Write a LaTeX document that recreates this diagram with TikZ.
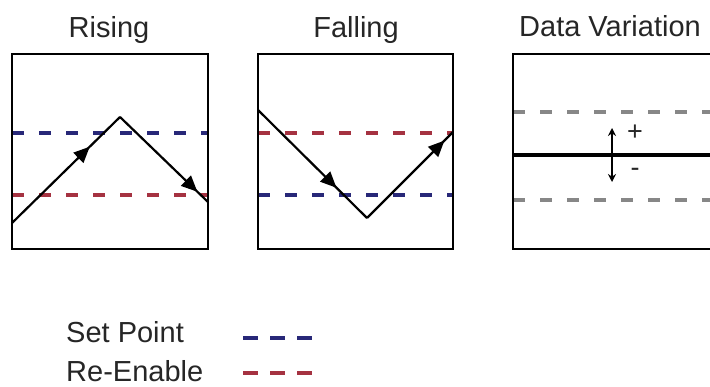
\documentclass[tikz,border=0pt]{standalone}
\usepackage{fontspec}
\setmainfont{Liberation Sans}
\usetikzlibrary{arrows.meta,positioning,decorations.markings}
\definecolor{setblue}{RGB}{40,40,120}
\definecolor{enred}{RGB}{165,50,65}
\definecolor{vargray}{RGB}{135,135,135}
\tikzset{
  frame/.style     = {line width=2.2pt},
  trace/.style     = {line width=2.2pt},
  limit/.style     = {line width=3.4pt, dash pattern=on 12pt off 15pt},
  legdash/.style   = {line width=3.4pt, dash pattern=on 15pt off 12pt},
  title/.style     = {font=\fontsize{29}{30}\selectfont, text=black!85, inner sep=0pt},
  sign/.style      = {font=\fontsize{27}{27}\selectfont, text=black!85, inner sep=0pt},
  midarrow/.style  = {postaction={decorate,decoration={markings,
                      mark=at position #1 with {\arrow{Triangle[length=16pt,width=14pt]}}}}},
}

\begin{document}
\begin{tikzpicture}[x=1pt,y=-1pt]
  \def\bw{196}   % box width
  \def\bh{195}   % box height
  \useasboundingbox (0,0) rectangle (710,387);

  % ---------------- rising -----------------------------------------------
  \node[title,anchor=base] (rising) at (109,38) {Rising};
  \begin{scope}[shift={(12,54)}]
    \draw[limit,setblue] (0,79) -- (\bw,79);
    \draw[limit,enred] (0,141) -- (\bw,141);
    \draw[trace,midarrow=0.72] (0,169) -- (108,63);
    \draw[trace,midarrow=0.88] (108,63) -- (\bw,148);
    \draw[frame] (0,0) rectangle (\bw,\bh);
  \end{scope}

  % ---------------- falling ----------------------------------------------
  \node[title,anchor=base] (falling) at (356,38) {Falling};
  \begin{scope}[shift={(258,54)}]
    \draw[limit,enred] (0,79) -- (195,79);
    \draw[limit,setblue] (0,141) -- (195,141);
    \draw[trace,midarrow=0.72] (0,56) -- (109,164);
    \draw[trace,midarrow=0.9] (109,164) -- (195,78);
    \draw[frame] (0,0) rectangle (195,\bh);
  \end{scope}

  % ---------------- data variation ---------------------------------------
  \node[title,anchor=base] (variation) at (610,37) {Data Variation};
  \begin{scope}[shift={(513,54)}]
    \draw[limit,vargray] (0,58) -- (197,58);
    \draw[limit,vargray] (0,146) -- (197,146);
    \draw[line width=3.4pt] (0,101) -- (197,101);
    \coordinate (var up) at (99,74);
    \coordinate (var down) at (99,128);
    \draw[{Stealth[length=8pt,width=8pt]}-{Stealth[length=8pt,width=8pt]},line width=1.8pt]
         (var up) -- (var down);
    \node[sign] (plus) at (122,79) {+};
    \node[sign] (minus) at (122,118) {-};
    \draw[frame] (198.5,0) -- (0,0) -- (0,\bh) -- (198.5,\bh);
  \end{scope}

  % ---------------- legend -----------------------------------------------
  \node[title,anchor=base west] (setpt) at (66,343) {Set Point};
  \node[title,anchor=base west] (reenable) at (66,382) {Re-Enable};
  \coordinate (setpt a) at (243,338);
  \coordinate (setpt b) at (312,338);
  \coordinate (reenable a) at (243,373);
  \coordinate (reenable b) at (312,373);
  \draw[legdash,setblue] (setpt a) -- (setpt b);
  \draw[legdash,enred] (reenable a) -- (reenable b);
\end{tikzpicture}
\end{document}
